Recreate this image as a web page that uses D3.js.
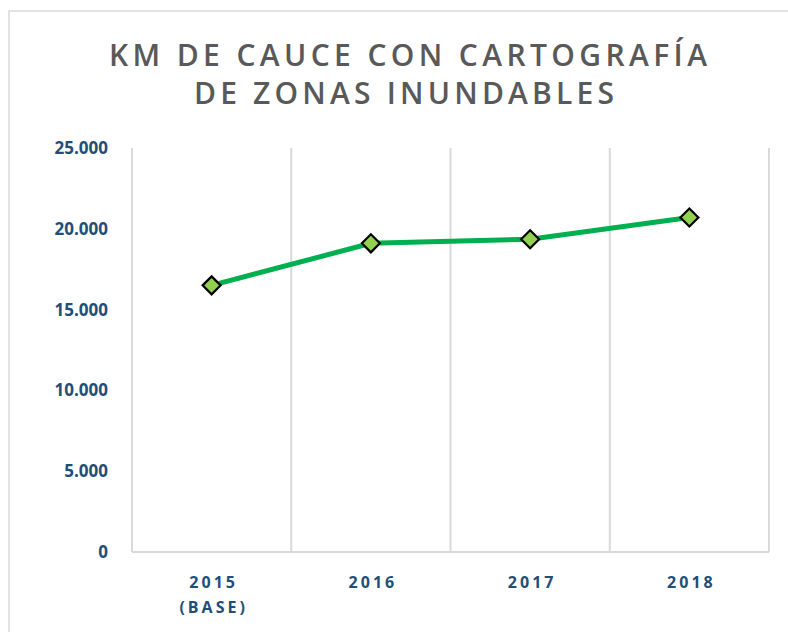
<!DOCTYPE html>
<html>
<head>
<meta charset="utf-8">
<script src="https://d3js.org/d3.v7.min.js"></script>
<style>
  body { margin: 0; background: #fff; }
  svg { display: block; }
  .title { font-family: "Open Sans", sans-serif; font-weight: 600; fill: #595959; }
  .ytick { font-family: "Open Sans", sans-serif; font-weight: 700; fill: #1f4e79; font-size: 17px; }
  .xtick { font-family: "Open Sans", sans-serif; font-weight: 700; fill: #1f4e79; font-size: 16px; letter-spacing: 3px; }
</style>
</head>
<body>
<svg width="788" height="632"></svg>
<script>
// data
var years = ["2015", "2016", "2017", "2018"];
var yearSub = ["(BASE)", "", "", ""];
var km = [16500, 19100, 19350, 20700];
var yTicks = [0, 5000, 10000, 15000, 20000, 25000];

var svg = d3.select("svg");

// frame of the chart box
svg.append("rect")
  .attr("x", 9).attr("y", 11)
  .attr("width", 800).attr("height", 640)
  .attr("fill", "none").attr("stroke", "#d9d9d9").attr("stroke-width", 1.5);

// title
svg.append("text").attr("class", "title")
  .attr("x", 408).attr("y", 66)
  .attr("text-anchor", "middle")
  .attr("font-size", 30)
  .attr("textLength", 598).attr("lengthAdjust", "spacing")
  .text("KM DE CAUCE CON CARTOGRAFÍA");
svg.append("text").attr("class", "title")
  .attr("x", 404).attr("y", 104)
  .attr("text-anchor", "middle")
  .attr("font-size", 30)
  .attr("textLength", 420).attr("lengthAdjust", "spacing")
  .text("DE ZONAS INUNDABLES");

var plotLeft = 132, plotRight = 769, plotTop = 148, plotBottom = 552;

var x = d3.scaleBand().domain(years).range([plotLeft, plotRight]);
var y = d3.scaleLinear().domain([0, 25000]).range([plotBottom, plotTop]);

// vertical gridlines at category boundaries
var bounds = years.map(function(d) { return x(d); }).concat([plotRight]);
svg.append("g").selectAll("line")
  .data(bounds)
  .enter().append("line")
  .attr("x1", function(d) { return d; })
  .attr("x2", function(d) { return d; })
  .attr("y1", plotTop)
  .attr("y2", plotBottom)
  .attr("stroke", "#d9d9d9")
  .attr("stroke-width", 2);

// baseline
svg.append("line")
  .attr("x1", plotLeft).attr("x2", plotRight)
  .attr("y1", y(0)).attr("y2", y(0))
  .attr("stroke", "#d9d9d9").attr("stroke-width", 2);

// y labels
var fmt = function(v) { return v === 0 ? "0" : d3.format(",")(v).replace(/,/g, "."); };
svg.append("g").selectAll("text")
  .data(yTicks)
  .enter().append("text")
  .attr("class", "ytick")
  .attr("x", 108)
  .attr("y", function(d) { return y(d); })
  .attr("dy", "0.35em")
  .attr("text-anchor", "end")
  .text(fmt);

// x labels
var xl = svg.append("g").selectAll("text")
  .data(years)
  .enter().append("text")
  .attr("class", "xtick")
  .attr("x", function(d) { return x(d) + x.bandwidth() / 2 + 2; })
  .attr("y", 588)
  .attr("text-anchor", "middle");
xl.append("tspan").text(function(d) { return d; });
xl.append("tspan")
  .attr("x", function(d) { return x(d) + x.bandwidth() / 2 + 2; })
  .attr("dy", 25)
  .text(function(d, i) { return yearSub[i]; });

// line
var pts = years.map(function(d, i) { return [x(d) + x.bandwidth() / 2, y(km[i])]; });
svg.append("path")
  .attr("d", d3.line()(pts))
  .attr("fill", "none")
  .attr("stroke", "#00b050")
  .attr("stroke-width", 5);

// diamond markers
svg.append("g").selectAll("path")
  .data(pts)
  .enter().append("path")
  .attr("transform", function(d) { return "translate(" + d[0] + "," + d[1] + ")"; })
  .attr("d", "M0,-9L9,0L0,9L-9,0Z")
  .attr("fill", "#92d050")
  .attr("stroke", "#000")
  .attr("stroke-width", 2.2);
</script>
</body>
</html>
